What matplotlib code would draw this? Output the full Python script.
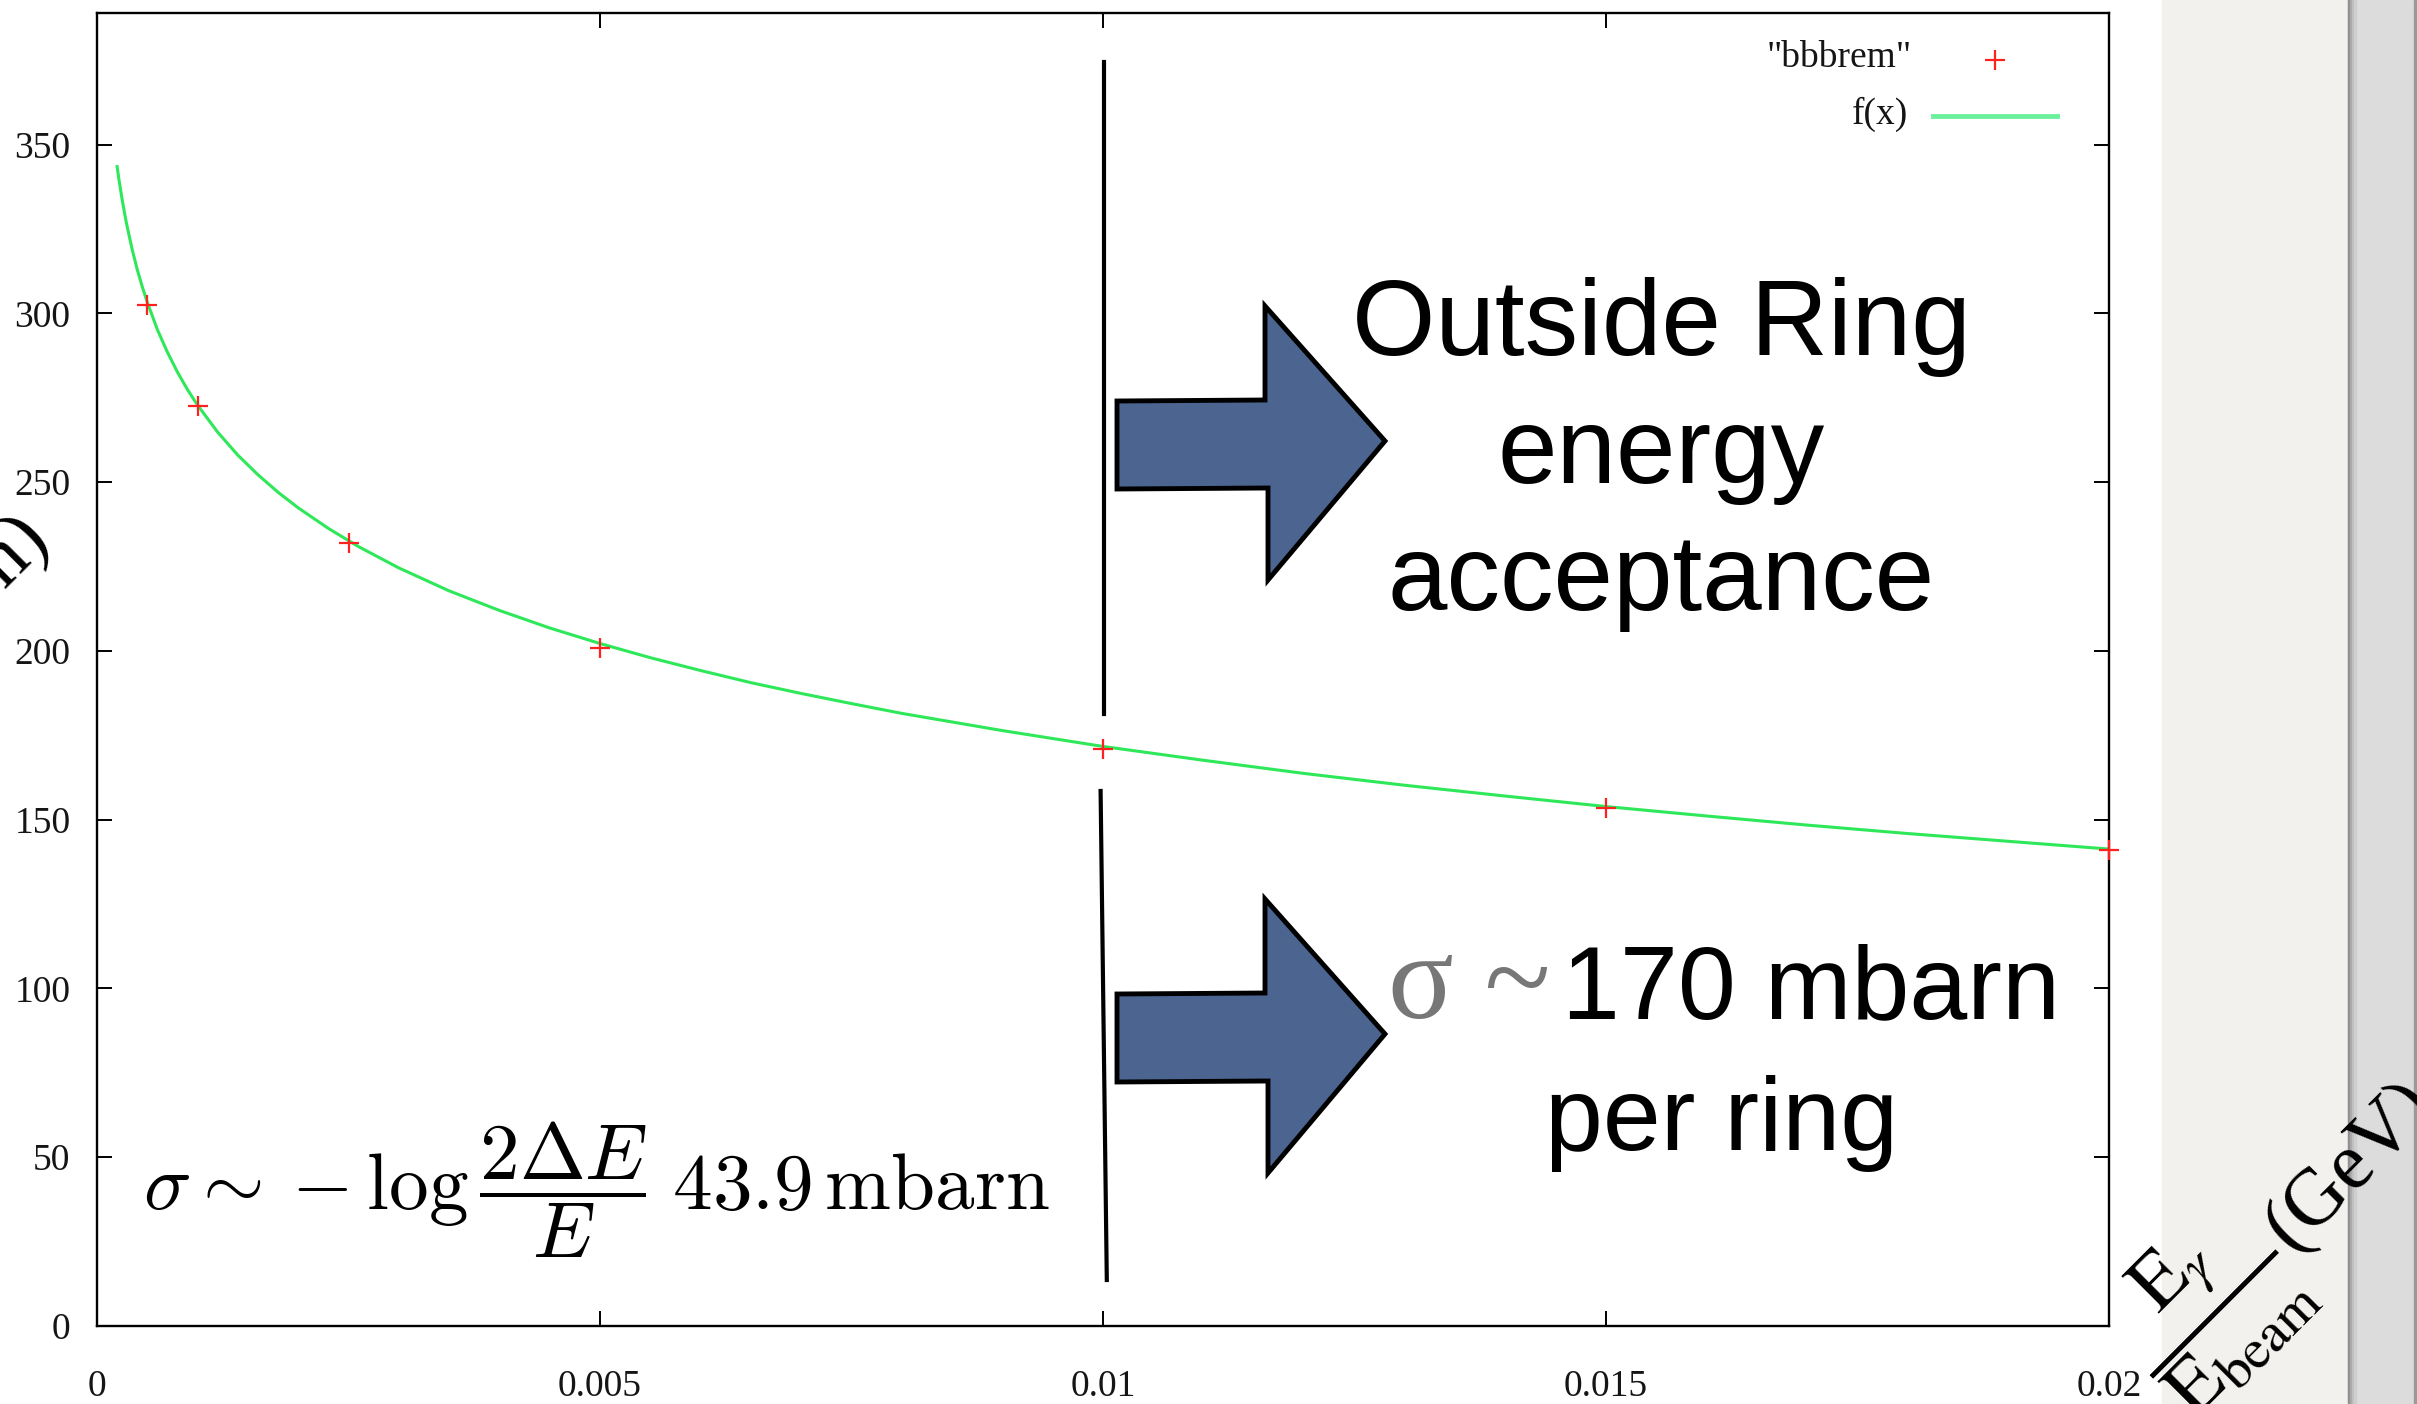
import numpy as np
import matplotlib.pyplot as plt
from matplotlib.patches import Polygon, Rectangle
from matplotlib.lines import Line2D

# tamaño de la imagen en pixeles
W, H = 2417, 1404

# Datos
x_bbbrem = [0.0005, 0.001, 0.0025, 0.005, 0.01, 0.015, 0.02]
y_bbbrem = [302.5, 272.5, 232, 201, 171, 153.5, 141]

# curva f(x) leida punto a punto
x_fx = [0.0002, 0.00022, 0.00025, 0.00028, 0.0003, 0.00035, 0.0004, 0.00045,
        0.0005, 0.0006, 0.0007, 0.0008, 0.0009, 0.001, 0.0012, 0.0014,
        0.0016, 0.0018, 0.002, 0.0023, 0.0026, 0.003, 0.0035, 0.004,
        0.0045, 0.005, 0.0055, 0.006, 0.0065, 0.007, 0.0075, 0.008,
        0.009, 0.01, 0.011, 0.012, 0.013, 0.014, 0.015, 0.016,
        0.017, 0.018, 0.019, 0.02]
y_fx = [343.5, 339.3, 333.7, 328.7, 325.7, 318.9, 313.0, 307.9,
        303.3, 295.2, 288.5, 282.6, 277.4, 272.8, 264.8, 258.0,
        252.2, 247.0, 242.4, 236.3, 230.9, 224.6, 217.8, 212.0,
        206.8, 202.2, 198.0, 194.2, 190.6, 187.4, 184.4, 181.5,
        176.4, 171.7, 167.6, 163.7, 160.2, 157.0, 153.9, 151.1,
        148.4, 145.9, 143.6, 141.3]

xticks = [0, 0.005, 0.01, 0.015, 0.02]
xtick_labels = ['0', '0.005', '0.01', '0.015', '0.02']
yticks = [0, 50, 100, 150, 200, 250, 300, 350]

def fx(px):
    return px / W

def fy(py):
    return 1 - py / H

fig = plt.figure(figsize=(W / 100, H / 100), dpi=100)

# Panel gris de la derecha
fig.add_artist(Rectangle((fx(2162), 0), fx(2348) - fx(2162), 1,
                         transform=fig.transFigure, color='#f2f1ed', zorder=0))
fig.add_artist(Rectangle((fx(2348), 0), fx(W) - fx(2348), 1,
                         transform=fig.transFigure, color='#dcdcdc', zorder=0))
for i, c in enumerate(['#8e8e8e', '#a8a8a8', '#bebebe', '#cecece']):
    fig.add_artist(Rectangle((fx(2348 + 2 * i), 0), fx(2), 1,
                             transform=fig.transFigure, color=c, zorder=0))
fig.add_artist(Rectangle((fx(2414), 0), fx(3), 1,
                         transform=fig.transFigure, color='#9a9a9a', zorder=0))

ax = fig.add_axes([fx(97), fy(1326), fx(2109) - fx(97), (1326 - 13) / H])

ax.plot(x_fx, y_fx, '-', color='#2ee85a', lw=2.2, zorder=2)
ax.plot(x_bbbrem, y_bbbrem, '+', color='#ff2020', ms=14, mew=1.6, zorder=3,
        clip_on=False)

ax.set_xlim(0, 0.02)
ax.set_ylim(0, 389)
ax.set_xticks(xticks)
ax.set_xticklabels(xtick_labels)
ax.set_yticks(yticks)

for s in ax.spines.values():
    s.set_linewidth(1.7)

ax.tick_params(direction='in', length=11, width=1.4, top=True, right=True,
               labelsize=27, labelcolor='#151515')
ax.tick_params(axis='y', pad=19)
ax.tick_params(axis='x', pad=31)
for lab in ax.get_xticklabels() + ax.get_yticklabels():
    lab.set_family('Liberation Serif')

# Leyenda al estilo gnuplot
fig.text(fx(1912), fy(58), '"bbbrem"', ha='right', va='center', fontsize=27,
         family='Liberation Serif', color='#151515')
fig.add_artist(Line2D([fx(1995)], [fy(60)], marker='+', ms=14, mew=1.6,
                      color='#ff2020', ls='none'))
fig.text(fx(1908), fy(114), 'f(x)', ha='right', va='center', fontsize=27,
         family='Liberation Serif', color='#151515')
fig.add_artist(Line2D([fx(1933), fx(2057)], [fy(116), fy(116)],
                      color='#6cf09c', lw=3.5))

# Linea vertical en 0.01
fig.add_artist(Line2D([fx(1103.7), fx(1103.7)], [fy(62), fy(714)],
                      color='k', lw=3, zorder=4))
fig.add_artist(Line2D([fx(1100.6), fx(1106.8)], [fy(791), fy(1280)],
                      color='k', lw=3, zorder=4))

# Flechas azules
arrow = [(1117, 401), (1265, 400), (1265, 306), (1385, 441),
         (1268, 580), (1268, 488), (1117, 489)]
for dy in [0, 593]:
    pts = [(fx(px), fy(py + dy)) for px, py in arrow]
    fig.add_artist(Polygon(pts, closed=True, transform=fig.transFigure,
                           facecolor='#4b6490', edgecolor='black', lw=3.5,
                           zorder=5))

# Textos
for txt, yb in [('Outside Ring', 355), ('energy', 483), ('acceptance', 610)]:
    fig.text(fx(1661), fy(yb), txt, ha='center', va='baseline', fontsize=77,
             family='Liberation Sans', zorder=6)

fig.text(fx(1388), fy(1018), 'σ ~', ha='left', va='baseline', fontsize=88,
         family='Liberation Serif', color='#777777', zorder=6)
fig.text(fx(1562), fy(1018), '170 mbarn', ha='left', va='baseline',
         fontsize=75, family='Liberation Sans', zorder=6)
fig.text(fx(1722), fy(1150), 'per ring', ha='center', va='baseline',
         fontsize=75, family='Liberation Sans', zorder=6)

fig.text(fx(143), fy(1190),
         r'$\sigma \sim -\log \dfrac{2\Delta E}{E}\; 43.9\,\mathrm{mbarn}$',
         ha='left', va='center', fontsize=57, math_fontfamily='cm', zorder=6)

# Etiquetas de los ejes (recortadas, como en el original)
fig.text(fx(2282), fy(1232),
         r'$\dfrac{\mathrm{E}_{\gamma}}{\mathrm{E}_{\mathrm{beam}}}$(GeV)',
         ha='center', va='center', rotation=45, rotation_mode='anchor',
         fontsize=58, family='Liberation Serif', math_fontfamily='stix',
         zorder=6)
fig.text(fx(50), fy(544), r'$\sigma$ (mbarn)', ha='right', va='baseline',
         rotation=45, rotation_mode='anchor', fontsize=58,
         family='Liberation Serif', math_fontfamily='stix', zorder=6)

fig.savefig('out.png', dpi=100)
